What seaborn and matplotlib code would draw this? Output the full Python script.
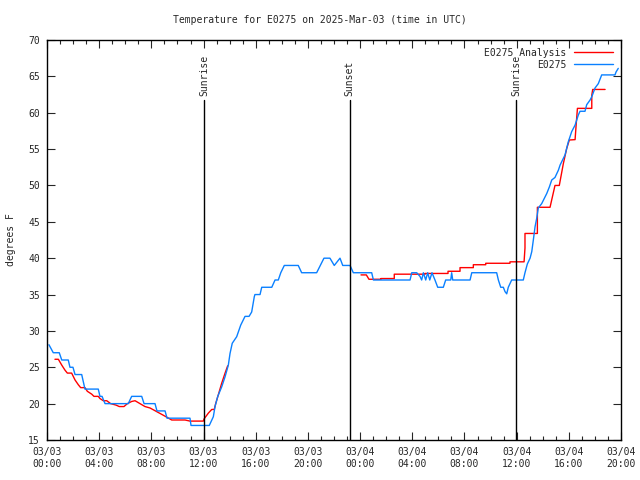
import numpy as np
import pandas as pd
import seaborn as sns
from matplotlib import pyplot as plt
from matplotlib.lines import Line2D

# hours since 03/03 00:00 UTC, temperature in degrees F
obs_hours = [0.15, 0.48, 0.94, 1.13, 1.63, 1.76, 1.99, 2.15, 2.66, 2.91, 3.93, 4.06, 4.22, 4.45,
             6.23, 6.49, 7.26, 7.44, 8.28, 8.43, 9.05, 9.20, 10.96, 11.04, 12.44, 12.75, 12.88,
             13.09, 13.39, 13.65, 13.90, 14.03, 14.20, 14.54, 14.85, 15.18, 15.49, 15.69, 15.89,
             15.94, 16.33, 16.46, 17.23, 17.48, 17.73, 17.92, 18.19, 19.26, 19.52, 20.67, 21.23,
             21.69, 22.02, 22.46, 22.67, 23.23, 23.48, 24.89, 25.02, 27.83, 27.96, 28.34, 28.59,
             28.72, 28.85, 29.03, 29.18, 29.34, 29.51, 29.74, 29.95, 30.38, 30.56, 30.95, 31.02,
             31.10, 32.43, 32.56, 34.47, 34.60, 34.78, 34.98, 35.11, 35.24, 35.36, 35.62, 36.51,
             36.64, 36.82, 37.03, 37.16, 37.28, 37.41, 37.54, 37.66, 37.92, 38.31, 38.51, 38.69,
             38.94, 39.20, 39.33, 39.71, 39.96, 40.22, 40.48, 40.73, 40.86, 41.24, 41.37, 41.63,
             41.76, 42.01, 42.26, 42.52, 43.54, 43.62, 43.79]
obs_temps = [28.1, 27, 27, 26, 26, 25, 25, 24, 24, 22, 22, 21, 21, 20,
             20, 21, 21, 20, 20, 19, 19, 18, 18, 17, 17, 18.2, 19.6,
             21, 22.3, 23.7, 25.3, 26.9, 28.3, 29.2, 30.8, 32, 32, 32.6, 34.7,
             35, 35, 36, 36, 37, 37, 38, 39, 39, 38, 38, 40,
             40, 39, 40, 39, 39, 38, 38, 37, 37, 38, 38, 37.5,
             37, 38, 37, 38, 37, 38, 37, 36, 36, 37, 37, 38,
             37, 37, 38, 38, 37, 36, 36, 35.4, 35.1, 36, 37, 37,
             38, 39.2, 40, 40.9, 42.5, 44.3, 45.5, 46.9, 47.5, 48.9, 49.8, 50.75,
             51.1, 52.1, 52.8, 54.2, 56, 57.4, 58.3, 59.7, 60.2, 60.2, 61.1, 61.75,
             62.2, 63.4, 64, 65.2, 65.2, 65.6, 66.1]

# analysis series, two pieces with a gap in the afternoon
ana_hours_1 = [0.61, 0.87, 1.13, 1.38, 1.56, 1.89, 2.15, 2.40, 2.58, 2.91, 3.09, 3.43, 3.60, 3.93,
               4.06, 4.32, 4.58, 4.88, 5.29, 5.54, 5.90, 6.16, 6.49, 6.75, 7.13, 7.51, 7.90, 8.41,
               8.92, 9.56, 10.58, 10.96, 11.98, 12.04, 12.37, 12.63, 12.82, 12.93, 13.13, 13.39,
               13.65, 13.85]
ana_temps_1 = [26.1, 26.1, 25.3, 24.6, 24.2, 24.2, 23.25, 22.6, 22.2, 22.2, 21.7, 21.3, 21, 21,
               20.7, 20.4, 20.4, 20, 19.8, 19.6, 19.6, 20, 20.3, 20.4, 20, 19.6, 19.4, 18.9,
               18.4, 17.75, 17.75, 17.6, 17.6, 17.9, 18.7, 19.2, 19.2, 20, 21.2, 22.8,
               24.2, 25.2]
ana_hours_2 = [24.07, 24.48, 24.68, 25.60, 25.60, 26.62, 26.62, 28.98, 28.98, 30.74, 30.74, 31.66,
               31.66, 32.68, 32.68, 33.63, 33.63, 35.49, 35.49, 36.57, 36.64, 36.64, 37.59, 37.59,
               38.56, 38.94, 39.27, 39.58, 39.84, 40.04, 40.48, 40.56, 40.66, 41.76, 41.76, 41.83,
               42.78]
ana_temps_2 = [37.7, 37.7, 37.1, 37.1, 37.2, 37.2, 37.8, 37.8, 37.9, 37.9, 38.2, 38.2,
               38.7, 38.7, 39.1, 39.1, 39.3, 39.3, 39.5, 39.5, 41.4, 43.4, 43.4, 47,
               47, 50, 50, 53, 55.1, 56.25, 56.3, 58.3, 60.6, 60.6, 62.4, 63.2,
               63.2]

sun_hours = [12.03, 23.2, 35.95]
sun_labels = ['Sunrise', 'Sunset', 'Sunrise']

tick_hours = [0, 4, 8, 12, 16, 20, 24, 28, 32, 36, 40, 44]
tick_labels = ['03/03\n00:00', '03/03\n04:00', '03/03\n08:00', '03/03\n12:00', '03/03\n16:00',
               '03/03\n20:00', '03/04\n00:00', '03/04\n04:00', '03/04\n08:00', '03/04\n12:00',
               '03/04\n16:00', '03/04\n20:00']

RED = '#ff0000'
BLUE = '#0a80ff'
FS = 7

sns.set_style('ticks')
plt.rcParams['font.family'] = ['DejaVu Sans Mono', 'DejaVu Sans']
plt.rcParams['font.size'] = FS

obs = pd.DataFrame({'hour': obs_hours, 'temp': obs_temps})
ana = pd.DataFrame({
    'hour': ana_hours_1 + ana_hours_2,
    'temp': ana_temps_1 + ana_temps_2,
    'seg': [1] * len(ana_hours_1) + [2] * len(ana_hours_2),
})

fig = plt.figure(figsize=(6.4, 4.8), dpi=100)
ax = fig.add_axes([47 / 640, 40 / 480, 574 / 640, 400 / 480])

sns.lineplot(data=ana, x='hour', y='temp', units='seg', estimator=None, sort=False,
             color=RED, linewidth=1, ax=ax)
sns.lineplot(data=obs, x='hour', y='temp', estimator=None, sort=False,
             color=BLUE, linewidth=1, ax=ax)

for h, lab in zip(sun_hours, sun_labels):
    ax.plot([h, h], [15, 61.8], color='black', linewidth=1)
    ax.text(h, 62.3, lab, rotation=90, ha='center', va='bottom', fontsize=FS)

ax.set_xlim(0, 44)
ax.set_ylim(15, 70)
ax.set_xticks(tick_hours)
ax.set_xticklabels(tick_labels)
ax.set_xticks(np.arange(0, 45, 1), minor=True)
ax.set_yticks(np.arange(15, 71, 5))
ax.tick_params(which='both', direction='in', top=True, right=True, width=0.8, labelsize=FS)
ax.tick_params(which='major', length=6, pad=5)
ax.tick_params(which='minor', length=3)
for s in ax.spines.values():
    s.set_visible(True)
    s.set_linewidth(1)
    s.set_color('black')

ax.set_xlabel('')
ax.set_ylabel('degrees F', fontsize=FS, labelpad=9)
fig.suptitle('Temperature for E0275 on 2025-Mar-03 (time in UTC)', fontsize=FS, y=0.968)

handles = [Line2D([], [], color=RED, linewidth=1), Line2D([], [], color=BLUE, linewidth=1)]
ax.legend(handles, ['E0275 Analysis', 'E0275'], loc='upper right', frameon=False,
          markerfirst=False, handlelength=4, fontsize=FS, borderaxespad=0.4,
          labelspacing=0.2, handletextpad=0.8)

fig.savefig('out.png', dpi=100)
